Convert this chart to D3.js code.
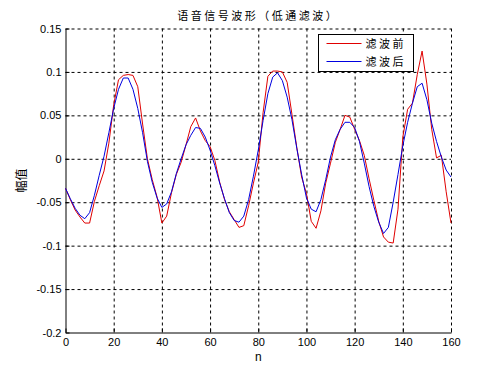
<!DOCTYPE html>
<html>
<head>
<meta charset="utf-8">
<script src="https://cdn.jsdelivr.net/npm/d3@7"></script>
<style>
    body { margin: 0; background: #fff; }
    svg { display: block; font-family: "Liberation Sans", Arial, sans-serif; }
    .grid line { stroke: #000; stroke-dasharray: 3,3; stroke-width: 1; }
    .grid .domain { display: none; }
    .axis text { font-size: 11px; fill: #000; }
    .axis .domain { stroke: #000; }
</style>
</head>
<body>
<svg width="499" height="374"></svg>
<script>
// sample index (n) and the two waveforms
var sampleN = [0, 2, 4, 6, 8, 10, 12, 14, 16, 18, 20, 22, 24, 26, 28, 30, 32, 34, 36, 38,
    40, 42, 44, 46, 48, 50, 52, 54, 56, 58, 60, 62, 64, 66, 68, 70, 72, 74, 76, 78,
    80, 82, 84, 86, 88, 90, 92, 94, 96, 98, 100, 102, 104, 106, 108, 110, 112, 114, 116, 118,
    120, 122, 124, 126, 128, 130, 132, 134, 136, 138, 140, 142, 144, 146, 148, 150, 152, 154, 156, 158, 160];

var before = [-0.034, -0.047, -0.059, -0.067, -0.074, -0.074, -0.049, -0.031, -0.014, 0.018,
    0.062, 0.091, 0.096, 0.097, 0.096, 0.083, 0.040, 0.000, -0.024, -0.044,
    -0.074, -0.066, -0.039, -0.018, -0.004, 0.016, 0.037, 0.047, 0.032, 0.021,
    0.014, -0.002, -0.027, -0.047, -0.061, -0.070, -0.079, -0.077, -0.054, -0.028,
    -0.004, 0.053, 0.095, 0.101, 0.101, 0.100, 0.088, 0.051, 0.013, -0.021,
    -0.040, -0.072, -0.080, -0.060, -0.028, -0.005, 0.019, 0.034, 0.050, 0.048,
    0.034, 0.021, 0.004, -0.023, -0.048, -0.072, -0.090, -0.096, -0.097, -0.058,
    0.025, 0.057, 0.064, 0.097, 0.124, 0.086, 0.034, 0.001, 0.004, -0.038, -0.074];

var after = [-0.034, -0.046, -0.057, -0.065, -0.069, -0.062, -0.042, -0.019, 0.003, 0.030,
    0.058, 0.080, 0.093, 0.093, 0.080, 0.058, 0.030, -0.003, -0.027, -0.045,
    -0.056, -0.052, -0.038, -0.017, 0.000, 0.016, 0.027, 0.036, 0.035, 0.025,
    0.010, -0.008, -0.028, -0.046, -0.062, -0.071, -0.073, -0.066, -0.047, -0.020,
    0.010, 0.044, 0.075, 0.094, 0.099, 0.090, 0.071, 0.045, 0.012, -0.018,
    -0.045, -0.058, -0.061, -0.047, -0.024, 0.002, 0.022, 0.034, 0.042, 0.042,
    0.036, 0.020, -0.005, -0.032, -0.055, -0.073, -0.086, -0.079, -0.050, -0.018,
    0.015, 0.042, 0.064, 0.083, 0.087, 0.068, 0.041, 0.020, 0.002, -0.013, -0.021];

var xTicks = [0, 20, 40, 60, 80, 100, 120, 140, 160];
var yTicks = [-0.2, -0.15, -0.1, -0.05, 0, 0.05, 0.1, 0.15];
var seriesNames = ["滤波前", "滤波后"];
var seriesColors = ["#e00000", "#0000e0"];

var svg = d3.select("svg"),
    margin = { top: 28.5, right: 48, bottom: 41.5, left: 65.5 },
    width = +svg.attr("width") - margin.left - margin.right,
    height = +svg.attr("height") - margin.top - margin.bottom;

var x = d3.scaleLinear().domain([0, 160]).range([0, width]),
    y = d3.scaleLinear().domain([-0.2, 0.15]).range([height, 0]);

var g = svg.append("g")
    .attr("transform", "translate(" + margin.left + "," + margin.top + ")");

// dashed grid, including top and right edges
g.append("g")
    .attr("class", "grid")
    .call(d3.axisBottom(x).tickValues(xTicks.slice(1)).tickSize(height).tickFormat(""));
g.append("g")
    .attr("class", "grid")
    .call(d3.axisLeft(y).tickValues(yTicks.slice(1)).tickSize(-width).tickFormat(""));

var tickFmt = function (d) { return d === 0 ? "0" : String(d); };

g.append("g")
    .attr("class", "axis")
    .attr("transform", "translate(0," + height + ")")
    .call(d3.axisBottom(x).tickValues(xTicks).tickSizeInner(-4).tickSizeOuter(0).tickPadding(6).tickFormat(tickFmt));

g.append("g")
    .attr("class", "axis")
    .call(d3.axisLeft(y).tickValues(yTicks).tickSizeInner(-4).tickSizeOuter(0).tickPadding(4).tickFormat(tickFmt));

var line = d3.line()
    .x(function (d) { return x(d[0]); })
    .y(function (d) { return y(d[1]); });

[before, after].forEach(function (vals, i) {
    g.append("path")
        .datum(sampleN.map(function (n, j) { return [n, vals[j]]; }))
        .attr("fill", "none")
        .attr("stroke", seriesColors[i])
        .attr("stroke-width", 1)
        .attr("d", line);
});

// title and axis labels
svg.append("text")
    .attr("x", margin.left + width / 2)
    .attr("y", 20)
    .attr("text-anchor", "middle")
    .style("font-family", "'Noto Sans CJK SC'")
    .style("font-size", "11px")
    .style("letter-spacing", "2.5px")
    .text("语音信号波形（低通滤波）");

svg.append("text")
    .attr("x", margin.left + width / 2)
    .attr("y", 361)
    .attr("text-anchor", "middle")
    .style("font-size", "12px")
    .text("n");

svg.append("text")
    .attr("transform", "translate(26," + (margin.top + height / 2) + ") rotate(-90)")
    .attr("text-anchor", "middle")
    .style("font-family", "'Noto Sans CJK SC'")
    .style("font-size", "12px")
    .text("幅值");

// legend
var lg = svg.append("g").attr("transform", "translate(318.5,34.5)");
lg.append("rect")
    .attr("width", 95).attr("height", 37)
    .attr("fill", "#fff").attr("stroke", "#000");
seriesNames.forEach(function (name, i) {
    var ly = 9 + i * 18;
    lg.append("line")
        .attr("x1", 8).attr("x2", 43).attr("y1", ly).attr("y2", ly)
        .attr("stroke", seriesColors[i]);
    lg.append("text")
        .attr("x", 47).attr("y", ly + 4)
        .style("font-family", "'Noto Sans CJK SC'")
        .style("font-size", "11px")
        .style("letter-spacing", "2.5px")
        .text(name);
});
</script>
</body>
</html>
